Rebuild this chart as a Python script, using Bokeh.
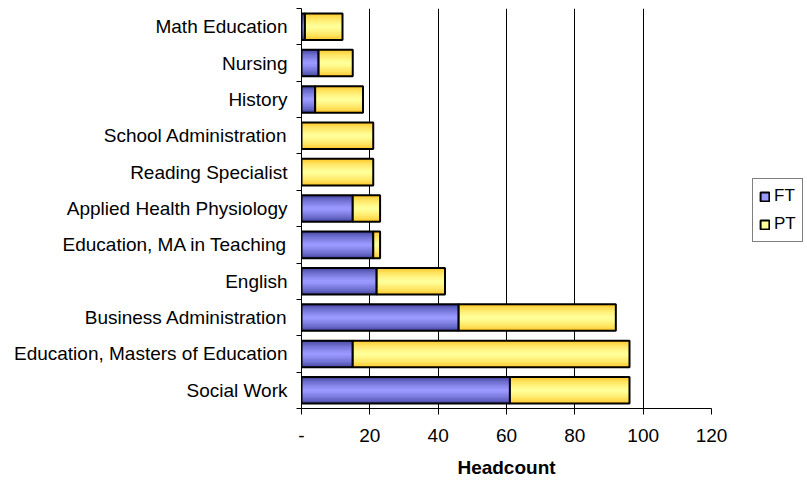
import numpy as np
from bokeh.plotting import figure
from bokeh.models import ColumnDataSource, FixedTicker, Legend, LegendItem, Range1d
from bokeh.embed import file_html
from bokeh.resources import INLINE

# ---- data (bottom to top) ----
categories = [
    "Social Work",
    "Education, Masters of Education",
    "Business Administration",
    "English",
    "Education, MA in Teaching",
    "Applied Health Physiology",
    "Reading Specialist",
    "School Administration",
    "History",
    "Nursing",
    "Math Education",
]
ft_values = [61, 15, 46, 22, 21, 15, 0, 0, 4, 5, 1]
pt_values = [35, 81, 46, 20, 2, 8, 21, 21, 14, 10, 11]
x_ticks = [0, 20, 40, 60, 80, 100, 120]
x_tick_labels = ["-", "20", "40", "60", "80", "100", "120"]
series_names = ["FT", "PT"]

FONT = "Liberation Sans"

ypos = list(range(len(categories)))
ft_arr = np.array(ft_values, dtype=float)
pt_arr = np.array(pt_values, dtype=float)
src = ColumnDataSource(dict(
    y=ypos,
    ft_left=np.zeros_like(ft_arr),
    ft_right=ft_arr,
    pt_left=ft_arr,
    pt_right=ft_arr + pt_arr,
))

p = figure(
    frame_width=410, frame_height=400,
    min_border_left=301, min_border_right=94,
    min_border_top=8, min_border_bottom=70,
    x_range=Range1d(0, 120), y_range=Range1d(-0.5, len(categories) - 0.5),
    output_backend="svg", toolbar_location=None,
)
p.outline_line_color = None
p.background_fill_color = "white"
p.border_fill_color = "white"

BAR_H = 0.73
N = 10

def hexcol(c):
    return "#%02x%02x%02x" % tuple(int(round(v)) for v in c)

def gradient_bars(left, right, edge, center):
    layers = []
    for k in range(N):
        t = k / (N - 1)
        col = np.array(edge) + (np.array(center) - np.array(edge)) * (t ** 0.6)
        h = BAR_H * (1 - k / N)
        r = p.hbar(y="y", left=left, right=right, height=h, source=src,
                   fill_color=hexcol(col), line_color=None)
        layers.append(r)
    outline = p.hbar(y="y", left=left, right=right, height=BAR_H, source=src,
                     fill_alpha=0, line_color="black", line_width=2)
    return layers, outline

ft_layers, ft_outline = gradient_bars("ft_left", "ft_right", (60, 60, 150), (153, 153, 255))
pt_layers, pt_outline = gradient_bars("pt_left", "pt_right", (255, 195, 30), (255, 255, 153))

# grid
p.ygrid.grid_line_color = None
p.xgrid.ticker = FixedTicker(ticks=x_ticks[1:-1])
p.xgrid.grid_line_color = "black"
p.xgrid.grid_line_width = 1

# x axis
p.xaxis.ticker = FixedTicker(ticks=x_ticks)
p.xaxis.major_label_overrides = {t: l for t, l in zip(x_ticks, x_tick_labels)}
p.xaxis.axis_label = "Headcount"
p.xaxis.axis_label_text_font = FONT
p.xaxis.axis_label_text_font_size = "19px"
p.xaxis.axis_label_text_font_style = "bold"
p.xaxis.axis_label_text_color = "black"
p.xaxis.axis_label_standoff = 12
p.xaxis.major_label_text_font = FONT
p.xaxis.major_label_text_font_size = "19px"
p.xaxis.major_label_text_color = "black"
p.xaxis.major_label_standoff = 14
p.xaxis.axis_line_color = "black"
p.xaxis.major_tick_line_color = "black"
p.xaxis.major_tick_out = 6
p.xaxis.major_tick_in = 0
p.xaxis.minor_tick_line_color = None

# y axis
p.yaxis.ticker = FixedTicker(ticks=ypos, minor_ticks=[i - 0.5 for i in range(len(categories) + 1)])
p.yaxis.major_label_overrides = {i: c for i, c in zip(ypos, categories)}
p.yaxis.major_label_text_font = FONT
p.yaxis.major_label_text_font_size = "19px"
p.yaxis.major_label_text_color = "black"
p.yaxis.major_tick_line_color = None
p.yaxis.major_tick_out = 0
p.yaxis.major_tick_in = 0
p.yaxis.major_label_standoff = 9
p.yaxis.minor_tick_line_color = "black"
p.yaxis.minor_tick_out = 5
p.yaxis.minor_tick_in = 0
p.yaxis.axis_line_color = "black"

legend = Legend(
    items=[
        LegendItem(label=series_names[0], renderers=[ft_layers[-1], ft_outline]),
        LegendItem(label=series_names[1], renderers=[pt_layers[-1], pt_outline]),
    ],
    location=(41, 166),
    label_text_font=FONT,
    label_text_font_size="17px",
    label_text_color="black",
    glyph_width=11, glyph_height=11,
    label_standoff=4,
    label_height=22,
    spacing=6,
    padding=6,
    margin=0,
    border_line_color="black",
    border_line_width=1,
    background_fill_color="white",
    background_fill_alpha=1,
)
p.add_layout(legend, "right")

open("out.html", "w").write(file_html(p, INLINE))
